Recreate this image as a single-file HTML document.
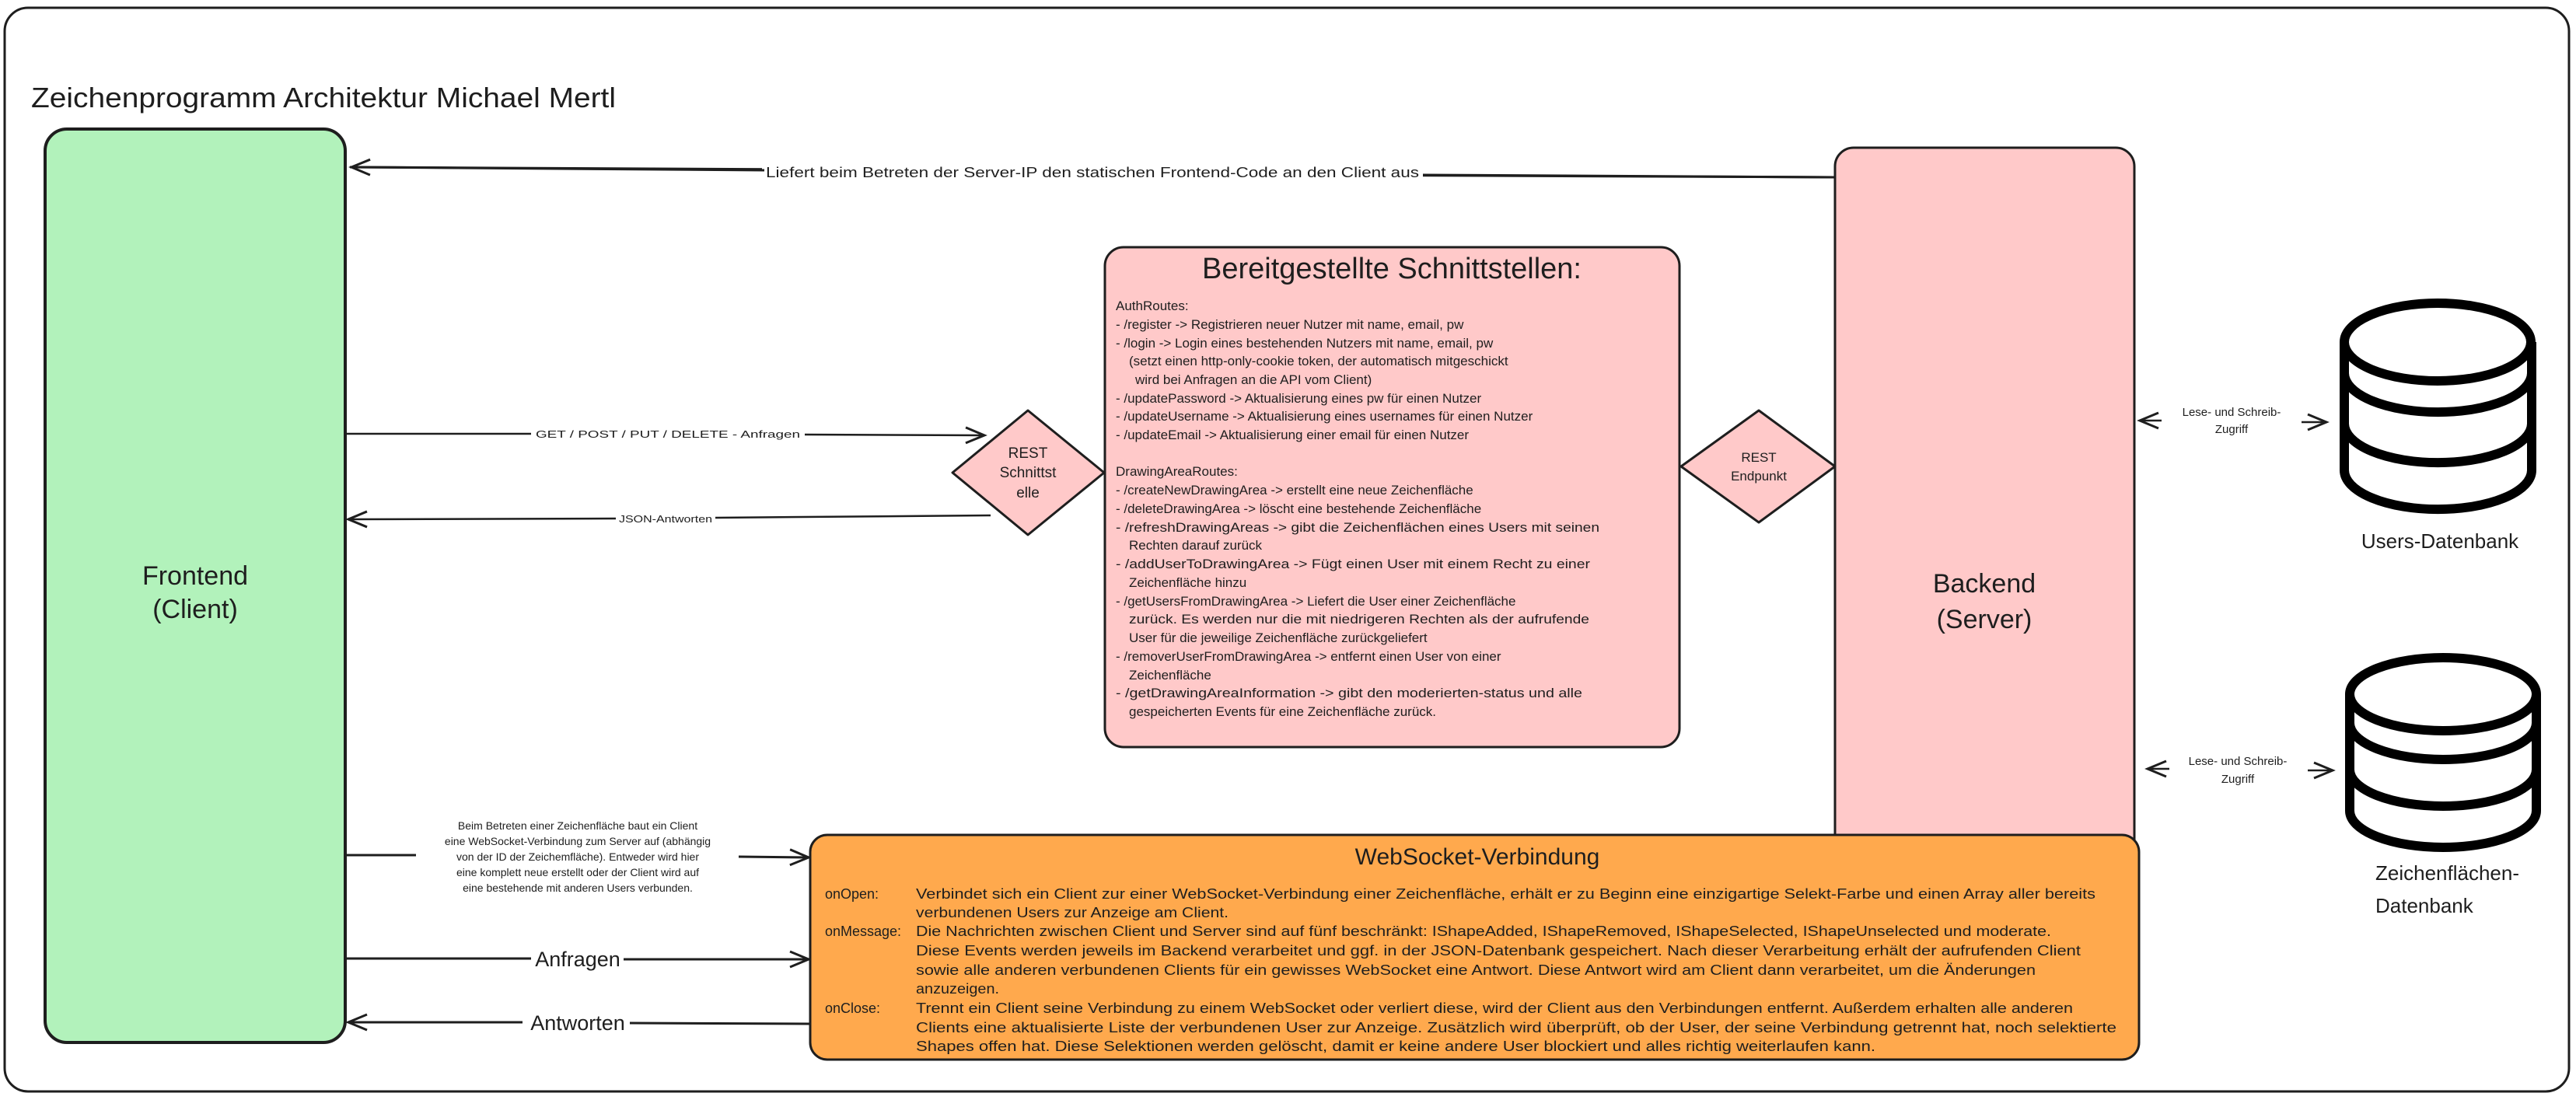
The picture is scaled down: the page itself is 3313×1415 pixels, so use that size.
<!DOCTYPE html>
<html><head><meta charset="utf-8"><style>
html,body{margin:0;padding:0;background:#fff;}
svg{display:block;}
text{font-family:"Liberation Sans",sans-serif;fill:#1e1e1e;}
</style></head><body>
<svg width="3313" height="1415" viewBox="0 0 3313 1415" xmlns="http://www.w3.org/2000/svg">
<defs>
<marker id="ah" markerWidth="30" markerHeight="30" refX="26" refY="12" orient="auto" markerUnits="userSpaceOnUse">
<path d="M2,2 L26,12 L2,22" fill="none" stroke="#1e1e1e" stroke-width="3"/>
</marker>
<marker id="ahs" markerWidth="30" markerHeight="30" refX="2" refY="12" orient="auto" markerUnits="userSpaceOnUse">
<path d="M26,2 L2,12 L26,22" fill="none" stroke="#1e1e1e" stroke-width="3"/>
</marker>
</defs>
<!-- outer frame -->
<rect x="6" y="10" width="3298" height="1394" rx="30" fill="#fff" stroke="#1e1e1e" stroke-width="3"/>
<text x="40" y="138" font-size="36" textLength="752" lengthAdjust="spacingAndGlyphs">Zeichenprogramm Architektur Michael Mertl</text>

<!-- Frontend -->
<rect x="58" y="166" width="386" height="1175" rx="28" fill="#b2f2bb" stroke="#1e1e1e" stroke-width="4"/>
<text x="251" y="752" font-size="34" text-anchor="middle">Frontend</text>
<text x="251" y="795" font-size="34" text-anchor="middle">(Client)</text>

<!-- Backend -->
<rect x="2360" y="190" width="385" height="930" rx="24" fill="#ffc9c9" stroke="#1e1e1e" stroke-width="3"/>
<text x="2552" y="762" font-size="34" text-anchor="middle">Backend</text>
<text x="2552" y="808" font-size="34" text-anchor="middle">(Server)</text>

<!-- top arrow -->
<line x1="2360" y1="228" x2="983" y2="222" stroke="#1e1e1e" stroke-width="3"/>
<line x1="1826" y1="222" x2="450" y2="215" stroke="#1e1e1e" stroke-width="3"/>
<line x1="980" y1="222" x2="1830" y2="222" stroke="#fff" stroke-width="18"/>
<line x1="1830" y1="225" x2="2360" y2="228" stroke="#1e1e1e" stroke-width="3"/>
<line x1="983" y1="219" x2="452" y2="215" stroke="#1e1e1e" stroke-width="3" marker-end="url(#ah)"/>
<text x="1405" y="228" font-size="18" text-anchor="middle" textLength="840" lengthAdjust="spacingAndGlyphs">Liefert beim Betreten der Server-IP den statischen Frontend-Code an den Client aus</text>

<!-- GET arrow -->
<line x1="446" y1="558" x2="683" y2="558" stroke="#1e1e1e" stroke-width="2.5"/>
<line x1="1035" y1="559" x2="1266" y2="560" stroke="#1e1e1e" stroke-width="2.5" marker-end="url(#ah)"/>
<text x="859" y="563" font-size="13" text-anchor="middle" textLength="340" lengthAdjust="spacingAndGlyphs">GET / POST / PUT / DELETE - Anfragen</text>
<!-- JSON arrow -->
<line x1="1274" y1="663" x2="920" y2="666" stroke="#1e1e1e" stroke-width="2.5"/>
<line x1="792" y1="667" x2="448" y2="668" stroke="#1e1e1e" stroke-width="2.5" marker-end="url(#ah)"/>
<text x="856" y="672" font-size="13" text-anchor="middle" textLength="120" lengthAdjust="spacingAndGlyphs">JSON-Antworten</text>

<!-- REST diamond -->
<path d="M1322,528 L1420,608 L1322,688 L1225,608 Z" fill="#ffc9c9" stroke="#1e1e1e" stroke-width="3" stroke-linejoin="round"/>
<text x="1322" y="589" font-size="19" text-anchor="middle">REST</text>
<text x="1322" y="614" font-size="19" text-anchor="middle">Schnittst</text>
<text x="1322" y="640" font-size="19" text-anchor="middle">elle</text>

<!-- Schnittstellen box -->
<rect x="1421" y="318" width="739" height="643" rx="24" fill="#ffc9c9" stroke="#1e1e1e" stroke-width="3"/>
<text x="1790" y="358" font-size="38" text-anchor="middle">Bereitgestellte Schnittstellen:</text>
<g font-size="17">
<text x="1435" y="399">AuthRoutes:</text>
<text x="1435" y="423">- /register -&gt; Registrieren neuer Nutzer mit name, email, pw</text>
<text x="1435" y="447">- /login -&gt; Login eines bestehenden Nutzers mit name, email, pw</text>
<text x="1452" y="470">(setzt einen http-only-cookie token, der automatisch mitgeschickt</text>
<text x="1460" y="494">wird bei Anfragen an die API vom Client)</text>
<text x="1435" y="518">- /updatePassword -&gt; Aktualisierung eines pw für einen Nutzer</text>
<text x="1435" y="541">- /updateUsername -&gt; Aktualisierung eines usernames für einen Nutzer</text>
<text x="1435" y="565">- /updateEmail -&gt; Aktualisierung einer email für einen Nutzer</text>
<text x="1435" y="612">DrawingAreaRoutes:</text>
<text x="1435" y="636">- /createNewDrawingArea -&gt; erstellt eine neue Zeichenfläche</text>
<text x="1435" y="660">- /deleteDrawingArea -&gt; löscht eine bestehende Zeichenfläche</text>
<text x="1435" y="684" textLength="622" lengthAdjust="spacingAndGlyphs">- /refreshDrawingAreas -&gt; gibt die Zeichenflächen eines Users mit seinen</text>
<text x="1452" y="707">Rechten darauf zurück</text>
<text x="1435" y="731" textLength="610" lengthAdjust="spacingAndGlyphs">- /addUserToDrawingArea -&gt; Fügt einen User mit einem Recht zu einer</text>
<text x="1452" y="755">Zeichenfläche hinzu</text>
<text x="1435" y="779">- /getUsersFromDrawingArea -&gt; Liefert die User einer Zeichenfläche</text>
<text x="1452" y="802" textLength="592" lengthAdjust="spacingAndGlyphs">zurück. Es werden nur die mit niedrigeren Rechten als der aufrufende</text>
<text x="1452" y="826">User für die jeweilige Zeichenfläche zurückgeliefert</text>
<text x="1435" y="850">- /removerUserFromDrawingArea -&gt; entfernt einen User von einer</text>
<text x="1452" y="874">Zeichenfläche</text>
<text x="1435" y="897" textLength="600" lengthAdjust="spacingAndGlyphs">- /getDrawingAreaInformation -&gt; gibt den moderierten-status und alle</text>
<text x="1452" y="921">gespeicherten Events für eine Zeichenfläche zurück.</text>
</g>

<!-- REST Endpunkt diamond -->
<path d="M2262,528 L2360,600 L2262,672 L2162,600 Z" fill="#ffc9c9" stroke="#1e1e1e" stroke-width="3" stroke-linejoin="round"/>
<text x="2262" y="594" font-size="17" text-anchor="middle">REST</text>
<text x="2262" y="618" font-size="17" text-anchor="middle">Endpunkt</text>

<!-- DB arrows -->
<line x1="2780" y1="541" x2="2752" y2="541" stroke="#1e1e1e" stroke-width="2.5" marker-end="url(#ah)"/>
<line x1="2960" y1="543" x2="2992" y2="543" stroke="#1e1e1e" stroke-width="2.5" marker-end="url(#ah)"/>
<text x="2870" y="535" font-size="15" text-anchor="middle">Lese- und Schreib-</text>
<text x="2870" y="557" font-size="15" text-anchor="middle">Zugriff</text>
<line x1="2790" y1="989" x2="2762" y2="989" stroke="#1e1e1e" stroke-width="2.5" marker-end="url(#ah)"/>
<line x1="2968" y1="991" x2="3000" y2="991" stroke="#1e1e1e" stroke-width="2.5" marker-end="url(#ah)"/>
<text x="2878" y="984" font-size="15" text-anchor="middle">Lese- und Schreib-</text>
<text x="2878" y="1007" font-size="15" text-anchor="middle">Zugriff</text>

<!-- DB1 -->
<g fill="none" stroke="#000" stroke-width="12">
<path d="M3015,440 L3015,605 A120,50 0 0 0 3256,605 L3256,440"/>
<ellipse cx="3135" cy="440" rx="120" ry="50"/>
<path d="M3015,480 A120,50 0 0 0 3256,480"/>
<path d="M3015,545 A120,50 0 0 0 3256,545"/>
</g>
<text x="3138" y="705" font-size="26" text-anchor="middle">Users-Datenbank</text>
<!-- DB2 -->
<g fill="none" stroke="#000" stroke-width="12">
<path d="M3022,893 L3022,1043 A120,47 0 0 0 3262,1043 L3262,893"/>
<ellipse cx="3142" cy="893" rx="120" ry="47"/>
<path d="M3022,930 A120,47 0 0 0 3262,930"/>
<path d="M3022,990 A120,47 0 0 0 3262,990"/>
</g>
<text x="3055" y="1132" font-size="26">Zeichenflächen-</text>
<text x="3055" y="1174" font-size="26">Datenbank</text>

<!-- WebSocket label arrow -->
<line x1="446" y1="1100" x2="535" y2="1100" stroke="#1e1e1e" stroke-width="3"/>
<line x1="950" y1="1102" x2="1040" y2="1103" stroke="#1e1e1e" stroke-width="3" marker-end="url(#ah)"/>
<g font-size="14" text-anchor="middle">
<text x="743" y="1067">Beim Betreten einer Zeichenfläche baut ein Client</text>
<text x="743" y="1087">eine WebSocket-Verbindung zum Server auf (abhängig</text>
<text x="743" y="1107">von der ID der Zeichemfläche). Entweder wird hier</text>
<text x="743" y="1127">eine komplett neue erstellt oder der Client wird auf</text>
<text x="743" y="1147">eine bestehende mit anderen Users verbunden.</text>
</g>
<!-- Anfragen -->
<line x1="446" y1="1233" x2="683" y2="1233" stroke="#1e1e1e" stroke-width="3"/>
<line x1="802" y1="1234" x2="1040" y2="1234" stroke="#1e1e1e" stroke-width="3" marker-end="url(#ah)"/>
<text x="743" y="1243" font-size="27" text-anchor="middle">Anfragen</text>
<!-- Antworten -->
<line x1="1042" y1="1317" x2="810" y2="1316" stroke="#1e1e1e" stroke-width="3"/>
<line x1="672" y1="1315" x2="448" y2="1315" stroke="#1e1e1e" stroke-width="3" marker-end="url(#ah)"/>
<text x="743" y="1325" font-size="27" text-anchor="middle">Antworten</text>

<!-- WebSocket box -->
<rect x="1042" y="1074" width="1709" height="289" rx="22" fill="#ffa94d" stroke="#1e1e1e" stroke-width="3"/>
<text x="1900" y="1112" font-size="30" text-anchor="middle">WebSocket-Verbindung</text>
<g font-size="18">
<text x="1061" y="1156">onOpen:</text>
<text x="1178" y="1156" textLength="1517" lengthAdjust="spacingAndGlyphs">Verbindet sich ein Client zur einer WebSocket-Verbindung einer Zeichenfläche, erhält er zu Beginn eine einzigartige Selekt-Farbe und einen Array aller bereits</text>
<text x="1178" y="1180" textLength="402" lengthAdjust="spacingAndGlyphs">verbundenen Users zur Anzeige am Client.</text>
<text x="1061" y="1204">onMessage:</text>
<text x="1178" y="1204" textLength="1460" lengthAdjust="spacingAndGlyphs">Die Nachrichten zwischen Client und Server sind auf fünf beschränkt: IShapeAdded, IShapeRemoved, IShapeSelected, IShapeUnselected und moderate.</text>
<text x="1178" y="1229" textLength="1498" lengthAdjust="spacingAndGlyphs">Diese Events werden jeweils im Backend verarbeitet und ggf. in der JSON-Datenbank gespeichert. Nach dieser Verarbeitung erhält der aufrufenden Client</text>
<text x="1178" y="1254" textLength="1440" lengthAdjust="spacingAndGlyphs">sowie alle anderen verbundenen Clients für ein gewisses WebSocket eine Antwort. Diese Antwort wird am Client dann verarbeitet, um die Änderungen</text>
<text x="1178" y="1278" textLength="107" lengthAdjust="spacingAndGlyphs">anzuzeigen.</text>
<text x="1061" y="1303">onClose:</text>
<text x="1178" y="1303" textLength="1488" lengthAdjust="spacingAndGlyphs">Trennt ein Client seine Verbindung zu einem WebSocket oder verliert diese, wird der Client aus den Verbindungen entfernt. Außerdem erhalten alle anderen</text>
<text x="1178" y="1328" textLength="1544" lengthAdjust="spacingAndGlyphs">Clients eine aktualisierte Liste der verbundenen User zur Anzeige. Zusätzlich wird überprüft, ob der User, der seine Verbindung getrennt hat, noch selektierte</text>
<text x="1178" y="1352" textLength="1234" lengthAdjust="spacingAndGlyphs">Shapes offen hat. Diese Selektionen werden gelöscht, damit er keine andere User blockiert und alles richtig weiterlaufen kann.</text>
</g>
</svg>
</body></html>
